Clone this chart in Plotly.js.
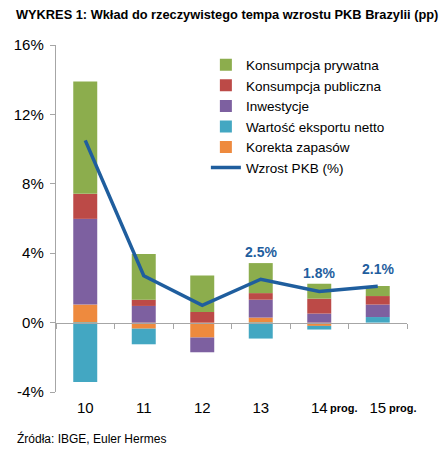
<!DOCTYPE html>
<html>
<head>
<meta charset="utf-8">
<script src="https://cdn.plot.ly/plotly-3.0.1.min.js"></script>
<style>html,body{margin:0;padding:0;background:#fff;}#chart{width:447px;height:453px;}</style>
</head>
<body>
<div id="chart"></div>
<script>
var categories = ['10', '11', '12', '13', '14', '15'];
var forecastCategories = ['14', '15'];
var korektaZapasow = [1.04, -0.35, -0.86, 0.29, -0.19, 0];
var eksportNetto = [-3.42, -0.90, 0, -0.92, -0.21, 0.32];
var inwestycje = [4.94, 0.96, -0.85, 1.03, 0.52, 0.72];
var konsumpcjaPubliczna = [1.44, 0.36, 0.61, 0.38, 0.86, 0.49];
var konsumpcjaPrywatna = [6.48, 2.63, 2.11, 1.73, 0.86, 0.58];
var wzrostPKB = [10.5, 2.7, 1.0, 2.5, 1.8, 2.1];
var labelledPoints = ['13', '14', '15'];
var yTicks = [-4, 0, 4, 8, 12, 16];

var FONT = 'Liberation Sans, Arial, sans-serif';
var lineColor = '#1F5E9E';

function barTrace(name, vals, color, rank) {
  return {type: 'bar', name: name, x: categories, y: vals, marker: {color: color},
          legendrank: rank, hoverinfo: 'skip'};
}

var data = [
  barTrace('Korekta zapasów', korektaZapasow, '#EE8A3E', 5),
  barTrace('Wartość eksportu netto', eksportNetto, '#43A7C2', 4),
  barTrace('Inwestycje', inwestycje, '#7D60A0', 3),
  barTrace('Konsumpcja publiczna', konsumpcjaPubliczna, '#BC4A47', 2),
  barTrace('Konsumpcja prywatna', konsumpcjaPrywatna, '#8CAD4D', 1),
  {type: 'scatter', mode: 'lines', name: 'Wzrost PKB (%)', x: categories, y: wzrostPKB,
   xaxis: 'x2', line: {color: lineColor, width: 3.5}, legendrank: 6, hoverinfo: 'skip'}
];

var labelShifts = [27, 18, 17];
var annotations = labelledPoints.map(function (c, k) {
  var i = categories.indexOf(c);
  return {xref: 'x', yref: 'y', x: i, y: wzrostPKB[i], yshift: labelShifts[k],
          text: '<b>' + wzrostPKB[i].toFixed(1) + '%</b>', showarrow: false, yanchor: 'middle',
          font: {family: FONT, size: 14, color: lineColor}};
});
forecastCategories.forEach(function (c) {
  annotations.push({xref: 'x', yref: 'paper', x: categories.indexOf(c), y: -0.047, xshift: 25, yanchor: 'middle',
                    text: '<b>prog.</b>', showarrow: false, font: {family: FONT, size: 11, color: '#000'}});
});
annotations.push({xref: 'paper', yref: 'paper', x: -0.117, y: -0.133, xanchor: 'left', yanchor: 'middle',
                  text: 'Źródła: IBGE, Euler Hermes', showarrow: false,
                  font: {family: FONT, size: 12, color: '#000'}});

var layout = {
  width: 447, height: 453,
  margin: {l: 56, r: 40, t: 45, b: 61},
  paper_bgcolor: '#fff', plot_bgcolor: '#fff',
  font: {family: FONT, size: 14, color: '#000'},
  title: {text: '<b>WYKRES 1: Wkład do rzeczywistego tempa wzrostu PKB Brazylii (pp)</b>',
          x: 16 / 447, xanchor: 'left', xref: 'container', y: 1 - 15 / 453, yanchor: 'middle', yref: 'container',
          font: {family: FONT, size: 12.8, color: '#000'}},
  barmode: 'relative',
  bargap: 0.59,
  showlegend: true,
  legend: {x: 0.427, y: 0.987, xanchor: 'left', yanchor: 'top', bgcolor: 'rgba(0,0,0,0)',
           font: {family: FONT, size: 13.5, color: '#000'}, tracegroupgap: 0},
  xaxis: {type: 'category', categoryorder: 'array', categoryarray: categories, range: [-0.5, 5.5],
          showline: false, ticks: '', showgrid: false, zeroline: false, ticklabelstandoff: 5,
          tickfont: {family: FONT, size: 15, color: '#000'}},
  xaxis2: {type: 'category', categoryorder: 'array', categoryarray: categories, range: [-0.5, 5.5],
           overlaying: 'x', anchor: 'free', position: 0.2, side: 'bottom',
           showline: true, linecolor: '#A6A6A6', linewidth: 1.2, ticks: 'outside', tickson: 'boundaries',
           ticklen: 5, tickcolor: '#A6A6A6', showticklabels: false, showgrid: false, zeroline: false},
  yaxis: {range: [-4, 16], tickvals: yTicks, ticktext: yTicks.map(function (v) { return v + '%'; }),
          showline: true, linecolor: '#A6A6A6', linewidth: 1.2, ticks: 'outside', ticklen: 5,
          tickcolor: '#A6A6A6', showgrid: false, zeroline: false, ticklabelstandoff: 3,
          tickfont: {family: FONT, size: 15, color: '#000'}},
  annotations: annotations
};

Plotly.newPlot('chart', data, layout, {displayModeBar: false, staticPlot: true});
</script>
</body>
</html>
